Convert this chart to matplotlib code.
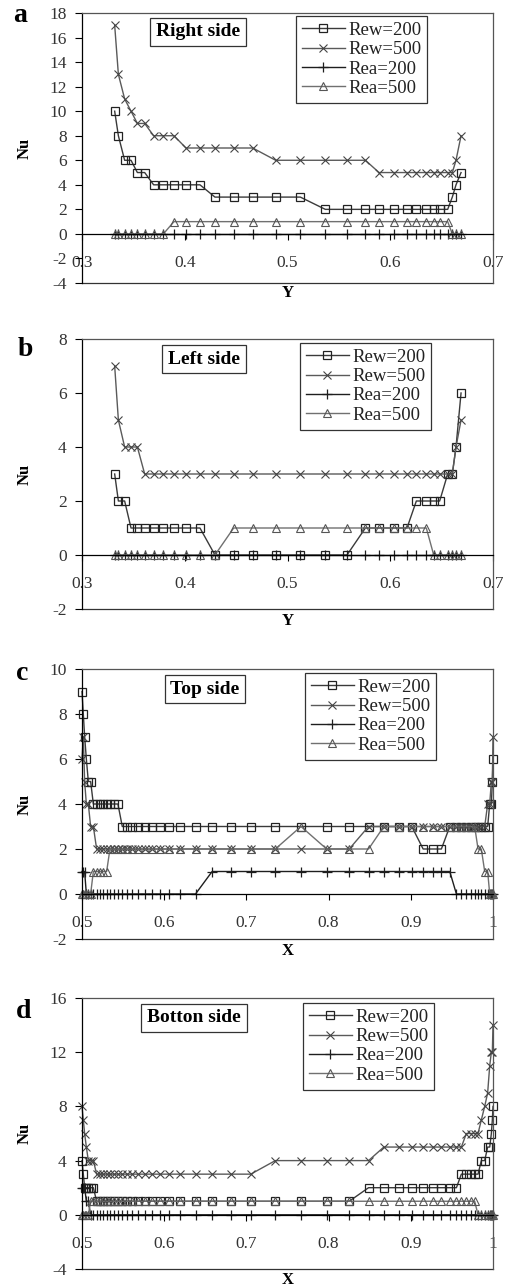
import matplotlib
matplotlib.use('Agg')
import matplotlib.pyplot as plt

# ---------------- data ----------------
grid_ab = [0.3318, 0.3354, 0.3415, 0.3477, 0.3539, 0.3610, 0.3697, 0.3792, 0.3895, 0.4012,
           0.4148, 0.4294, 0.4476, 0.4661, 0.4885, 0.5125, 0.5368, 0.5579, 0.5758, 0.5891,
           0.6033, 0.6163, 0.6254, 0.6351, 0.6423, 0.6481, 0.6559, 0.6604, 0.6640, 0.6689]

grid_cd = [0.5000, 0.5016, 0.5032, 0.5053, 0.5077, 0.5105, 0.5138, 0.5178, 0.5219, 0.5259,
           0.5300, 0.5340, 0.5389, 0.5437, 0.5490, 0.5547, 0.5611, 0.5684, 0.5765, 0.5854,
           0.5951, 0.6057, 0.6194, 0.6381, 0.6583, 0.6810, 0.7053, 0.7352, 0.7664, 0.7976,
           0.8251, 0.8486, 0.8672, 0.8858, 0.9012, 0.9150, 0.9271, 0.9372, 0.9474, 0.9555,
           0.9615, 0.9676, 0.9733, 0.9777, 0.9818, 0.9858, 0.9899, 0.9935, 0.9960, 0.9980,
           0.9992, 1.0000]

series_names = ["Rew=200", "Rew=500", "Rea=200", "Rea=500"]

# (a) Right side
a_rew200 = [10, 8, 6, 6, 5, 5, 4, 4, 4, 4, 4, 3, 3, 3, 3, 3, 2, 2, 2, 2, 2, 2, 2, 2, 2, 2, 2, 3, 4, 5]
a_rew500 = [17, 13, 11, 10, 9, 9, 8, 8, 8, 7, 7, 7, 7, 7, 6, 6, 6, 6, 6, 5, 5, 5, 5, 5, 5, 5, 5, 5, 6, 8]
a_rea200 = [0] * 30
a_rea500 = [0, 0, 0, 0, 0, 0, 0, 0, 1, 1, 1, 1, 1, 1, 1, 1, 1, 1, 1, 1, 1, 1, 1, 1, 1, 1, 1, 0, 0, 0]

# (b) Left side
b_rew200 = [3, 2, 2, 1, 1, 1, 1, 1, 1, 1, 1, 0, 0, 0, 0, 0, 0, 0, 1, 1, 1, 1, 2, 2, 2, 2, 3, 3, 4, 6]
b_rew500 = [7, 5, 4, 4, 4, 3, 3, 3, 3, 3, 3, 3, 3, 3, 3, 3, 3, 3, 3, 3, 3, 3, 3, 3, 3, 3, 3, 3, 4, 5]
b_rea200 = [0] * 30
b_rea500 = [0, 0, 0, 0, 0, 0, 0, 0, 0, 0, 0, 0, 1, 1, 1, 1, 1, 1, 1, 1, 1, 1, 1, 1, 0, 0, 0, 0, 0, 0]

# (c) Top side
c_rew200 = ([9, 8, 7, 6, 5, 5] + [4] * 8 + [3] * 21 + [2] * 3 + [3] * 10 + [4, 4, 5, 6])
c_rew500 = ([6, 7, 5, 4, 4, 3, 3] + [2] * 24 + [3] * 16 + [4, 4, 5, 5, 7])
c_rea200 = ([1] * 3 + [0] * 21 + [1] * 15 + [0] * 13)
c_rea500 = ([0] * 6 + [1] * 5 + [2] * 17 + [3] + [2] * 3 + [3] * 12 + [2, 2, 1, 1] + [0] * 4)

# (d) Botton side
d_rew200 = ([4, 3] + [2] * 5 + [1] * 24 + [2] * 9 + [3] * 5 + [4, 4, 5, 5, 6, 7, 8])
d_rew500 = ([8, 7, 6, 5, 4, 4, 4] + [3] * 20 + [4] * 5 + [5] * 9 + [6] * 4 + [7, 8, 9, 11, 12, 12, 14])
d_rea200 = ([2, 2, 2, 1, 1] + [0] * 47)
d_rea500 = ([0] * 5 + [1] * 39 + [0] * 8)

# ---------------- style ----------------
SERIF = ['Liberation Serif', 'DejaVu Serif']
plt.rcParams['font.family'] = SERIF

W, H = 507, 1288
fig = plt.figure(figsize=(W / 100, H / 100), dpi=100)

styles = [
    dict(marker='s', color='#3a3a3a', mfc='none', mec='#222222', ms=6, mew=0.9, lw=1.0),
    dict(marker='x', color='#5a5a5a', mfc='none', mec='#444444', ms=6, mew=0.8, lw=1.0),
    dict(marker='+', color='#1e1e1e', mfc='none', mec='#1e1e1e', ms=7, mew=0.9, lw=1.0),
    dict(marker='^', color='#707070', mfc='none', mec='#555555', ms=6, mew=0.8, lw=1.0),
]


def px_axes(l, t, r, b):
    return fig.add_axes([l / W, 1 - b / H, (r - l) / W, (b - t) / H])


def draw_panel(box, x, ys, xlim, xticks, xticklabels, ylim, yticks,
               letter, letter_xy, title, title_xy, legend_xy, xlabel, xlabel_y):
    l, t, r, b = box
    ax = px_axes(l, t, r, b)
    for yv, st, name in zip(ys, styles, series_names):
        ax.plot(x, yv, label=name, clip_on=False, **st)
    ax.set_xlim(*xlim)
    ax.set_ylim(*ylim)
    ax.set_yticks(yticks)
    ax.set_yticklabels([str(v) for v in yticks])
    ax.set_xticks(xticks)
    ax.set_xticklabels(xticklabels)
    # category axis crosses at zero
    ax.spines['bottom'].set_position(('data', 0))
    ax.spines['bottom'].set_color('black')
    ax.spines['bottom'].set_linewidth(0.9)
    ax.spines['left'].set_color('black')
    ax.spines['left'].set_linewidth(0.9)
    for s in ('top', 'right'):
        ax.spines[s].set_color('#555555')
        ax.spines[s].set_linewidth(0.9)
    ax.plot([0, 1], [0, 0], transform=ax.transAxes, color='#333333', lw=0.9, clip_on=False)
    ax.tick_params(axis='x', direction='out', length=4, width=0.8, pad=11,
                   labelsize=12.5, labelcolor='#333333', color='black')
    ax.tick_params(axis='y', direction='out', length=5, width=0.8, pad=6,
                   labelsize=12.5, labelcolor='#333333', color='black')
    # panel letter
    fig.text(letter_xy[0] / W, 1 - letter_xy[1] / H, letter, fontsize=20, fontweight='bold',
             ha='center', va='center', family=SERIF)
    # title box
    fig.text(title_xy[0] / W, 1 - title_xy[1] / H, title, fontsize=14, fontweight='bold',
             ha='center', va='center', family=SERIF,
             bbox=dict(boxstyle='square,pad=0.3', fc='white', ec='#333333', lw=0.9))
    # axis labels
    fig.text(25 / W, 1 - ((t + b) / 2) / H, 'Nu', rotation=90, fontsize=12, fontweight='bold',
             ha='center', va='center', family=SERIF)
    fig.text(((l + r) / 2) / W, 1 - xlabel_y / H, xlabel, fontsize=12, fontweight='bold',
             ha='center', va='center', family=SERIF)
    # legend
    leg = ax.legend(loc='upper left', bbox_to_anchor=(legend_xy[0] / W, 1 - legend_xy[1] / H),
                    bbox_transform=fig.transFigure, frameon=True, fancybox=False,
                    edgecolor='#333333', framealpha=1, fontsize=13.5, handlelength=2.3,
                    handletextpad=0.2, labelspacing=0.12, borderpad=0.3, borderaxespad=0)
    leg.get_frame().set_linewidth(0.9)
    for txt in leg.get_texts():
        txt.set_color('#222222')
    return ax


xt_ab = [0.3, 0.4, 0.5, 0.6, 0.7]
xl_ab = ['0.3', '0.4', '0.5', '0.6', '0.7']
xt_cd = [0.5, 0.6, 0.7, 0.8, 0.9, 1.0]
xl_cd = ['0.5', '0.6', '0.7', '0.8', '0.9', '1']

draw_panel((82, 13, 493, 283), grid_ab, [a_rew200, a_rew500, a_rea200, a_rea500],
           (0.3, 0.7), xt_ab, xl_ab, (-4, 18), list(range(-4, 19, 2)),
           'a', (20, 16), 'Right side', (198, 32), (296, 16), 'Y', 293)

draw_panel((82, 339, 493, 609), grid_ab, [b_rew200, b_rew500, b_rea200, b_rea500],
           (0.3, 0.7), xt_ab, xl_ab, (-2, 8), list(range(-2, 9, 2)),
           'b', (25, 349), 'Left side', (204, 359), (300, 343), 'Y', 621)

draw_panel((82, 669, 493, 939), grid_cd, [c_rew200, c_rew500, c_rea200, c_rea500],
           (0.5, 1.0), xt_cd, xl_cd, (-2, 10), list(range(-2, 11, 2)),
           'c', (22, 673), 'Top side', (205, 689), (305, 673), 'X', 951)

draw_panel((82, 998, 493, 1269), grid_cd, [d_rew200, d_rew500, d_rea200, d_rea500],
           (0.5, 1.0), xt_cd, xl_cd, (-4, 16), list(range(-4, 17, 4)),
           'd', (24, 1012), 'Botton side', (194, 1018), (303, 1003), 'X', 1280)

fig.savefig('out.png', dpi=100)
